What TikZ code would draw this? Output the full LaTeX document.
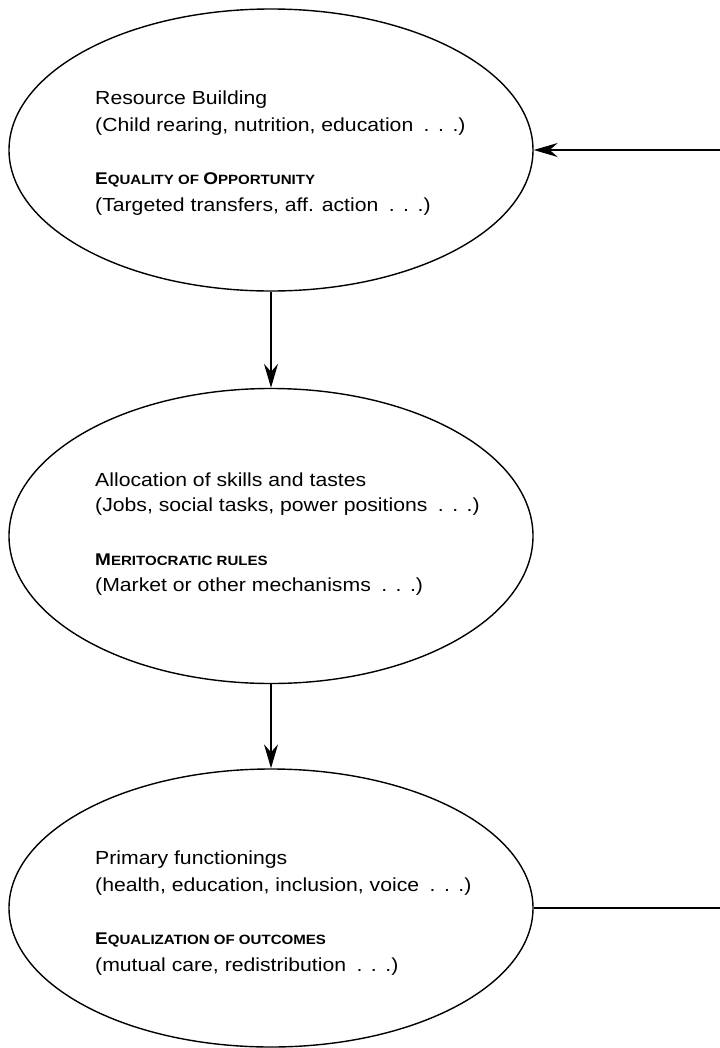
\documentclass[tikz,border=0pt]{standalone}
\usepackage{fontspec}
\setmainfont[FakeStretch=1.12]{Liberation Sans}
\usetikzlibrary{shapes.geometric,arrows.meta}

\newcommand{\lowcaps}[1]{{\fontsize{13.5}{15}\selectfont #1}}
\newcommand{\etcdots}{\hspace{0.55em}.\hspace{0.45em}.\hspace{0.45em}.}

\begin{document}
\begin{tikzpicture}[x=1bp, y=-1bp,
  stage/.style={draw, ellipse, line width=1.4bp, minimum width=524bp, inner sep=0pt},
  line/.style={anchor=west, inner sep=0pt, font=\fontsize{19}{22}\selectfont},
  head/.style={anchor=west, inner sep=0pt, font=\bfseries\fontsize{17}{19}\selectfont},
  flow/.style={line width=1.3bp, -{Stealth[length=24bp, width=14bp, inset=8bp]}}]
\useasboundingbox (0,0) rectangle (720,1048);

\node [stage, minimum height=282bp] (build) at (271,150) {};
\node [stage, minimum height=295bp] (alloc) at (271,536) {};
\node [stage, minimum height=278bp] (prim) at (271,908) {};

\node [line] (build-1) at (95,100) {Resource Building};
\node [line] (build-2) at (95,127) {(Child rearing, nutrition, education\etcdots)};
\node [head] (build-3) at (95,180) {E\lowcaps{QUALITY OF }O\lowcaps{PPORTUNITY}};
\node [line] (build-4) at (95,207) {(Targeted transfers, aff. action\etcdots)};

\node [line] (alloc-1) at (95,480) {Allocation of skills and tastes};
\node [line] (alloc-2) at (95,507) {(Jobs, social tasks, power positions\etcdots)};
\node [head] (alloc-3) at (95,560) {M\lowcaps{ERITOCRATIC RULES}};
\node [line] (alloc-4) at (95,587) {(Market or other mechanisms\etcdots)};

\node [line] (prim-1) at (95,860) {Primary functionings};
\node [line] (prim-2) at (95,887) {(health, education, inclusion, voice\etcdots)};
\node [head] (prim-3) at (95,940) {E\lowcaps{QUALIZATION OF OUTCOMES}};
\node [line] (prim-4) at (95,967) {(mutual care, redistribution\etcdots)};

% loop back on the right
\coordinate (back) at (720,150);
\coordinate (out) at (720,908);

\draw [flow] (build.south) -- (alloc.north);
\draw [flow] (alloc.south) -- (prim.north);
\draw [flow] (back) -- (build.east);
\draw [line width=1.3bp] (prim.east) -- (out);
\end{tikzpicture}
\end{document}
